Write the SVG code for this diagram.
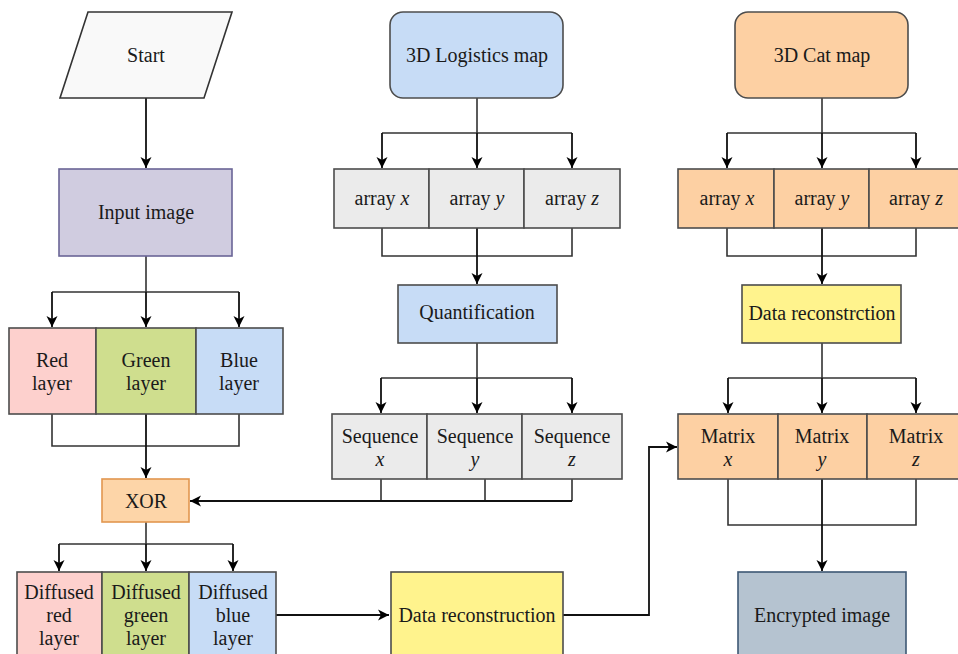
<svg xmlns="http://www.w3.org/2000/svg" width="958" height="654" viewBox="0 0 958 654">
<style>
text{font-family:"Liberation Serif","Times New Roman",serif;font-size:20px;fill:#1a1a1a;text-anchor:middle}
.it{font-style:italic}
.box{stroke:#4d4d4d;stroke-width:1.6}
.grey{fill:#ebebeb}
.blue{fill:#c7dcf6}
.peach{fill:#fdd0a3}
.yellow{fill:#fff38d}
.red{fill:#fdd0cd}
.green{fill:#cfde8e}
.arr{fill:none;stroke:#111;stroke-width:1.8;marker-end:url(#ah)}
.ln{fill:none;stroke:#333;stroke-width:1.6}
</style>
<defs>
<marker id="ah" markerUnits="userSpaceOnUse" markerWidth="12" markerHeight="12" viewBox="0 0 12 12" refX="11" refY="6" orient="auto">
<path d="M0,0.5 L11,6 L0,11.5 L3,6 Z" fill="#000"/>
</marker>
</defs>
<rect width="958" height="654" fill="#fff"/>

<g id="connectors">
<path class="arr" d="M146,98 V168"/>
<path class="ln" d="M146,256 V292 M52,292 H239"/>
<path class="arr" d="M52,292 V327"/>
<path class="arr" d="M146,292 V327"/>
<path class="arr" d="M239,292 V327"/>
<path class="ln" d="M52,414 V446 H239 V414"/>
<path class="arr" d="M146,414 V478"/>
<path class="ln" d="M146,522 V544 M59,544 H233"/>
<path class="arr" d="M59,544 V571"/>
<path class="arr" d="M146,544 V571"/>
<path class="arr" d="M233,544 V571"/>
<path class="arr" d="M276,615 H389"/>

<path class="ln" d="M477,98 V133 M382,133 H572"/>
<path class="arr" d="M382,133 V168"/>
<path class="arr" d="M477,133 V168"/>
<path class="arr" d="M572,133 V168"/>
<path class="ln" d="M382,228 V256 H572 V228"/>
<path class="arr" d="M477,228 V284"/>
<path class="ln" d="M477,343 V378 M381,378 H572"/>
<path class="arr" d="M381,378 V413"/>
<path class="arr" d="M477,378 V413"/>
<path class="arr" d="M572,378 V413"/>
<path class="ln" d="M381,479 V500 M485,479 V500 M572,479 V501"/>
<path class="arr" d="M572,501 H190"/>
<path class="arr" d="M563,615 H649 V447 H677"/>

<path class="ln" d="M822,98 V133 M727,133 H916"/>
<path class="arr" d="M727,133 V168"/>
<path class="arr" d="M822,133 V168"/>
<path class="arr" d="M916,133 V168"/>
<path class="ln" d="M727,228 V256 H916 V228"/>
<path class="arr" d="M822,228 V284"/>
<path class="ln" d="M822,343 V378 M728,378 H916"/>
<path class="arr" d="M728,378 V413"/>
<path class="arr" d="M822,378 V413"/>
<path class="arr" d="M916,378 V413"/>
<path class="ln" d="M728,479 V525 H916 V479"/>
<path class="arr" d="M822,479 V571"/>
</g>

<g id="start">
<polygon points="88,12 232,12 204,98 60,98" fill="#f9f9f9" stroke="#333" stroke-width="1.6"/>
<text x="146" y="62">Start</text>
</g>
<g id="input-image">
<rect x="59" y="169" width="173" height="87" fill="#d0cce0" stroke="#6a6596" stroke-width="1.6"/>
<text x="146" y="219">Input image</text>
</g>
<g id="red-layer">
<rect class="box red" x="9" y="328" width="87" height="86"/>
<text x="52" y="367">Red</text><text x="52" y="390">layer</text>
</g>
<g id="green-layer">
<rect class="box green" x="96" y="328" width="100" height="86"/>
<text x="146" y="367">Green</text><text x="146" y="390">layer</text>
</g>
<g id="blue-layer">
<rect class="box blue" x="196" y="328" width="87" height="86"/>
<text x="239" y="367">Blue</text><text x="239" y="390">layer</text>
</g>
<g id="xor">
<rect x="102" y="479" width="87" height="43" fill="#fdd5a8" stroke="#e2964f" stroke-width="1.6"/>
<text x="146" y="508">XOR</text>
</g>
<g id="diffused-red">
<rect class="box red" x="17" y="572" width="85" height="90"/>
<text x="59" y="599">Diffused</text><text x="59" y="622">red</text><text x="59" y="645">layer</text>
</g>
<g id="diffused-green">
<rect class="box green" x="102" y="572" width="87" height="90"/>
<text x="146" y="599">Diffused</text><text x="146" y="622">green</text><text x="146" y="645">layer</text>
</g>
<g id="diffused-blue">
<rect class="box blue" x="189" y="572" width="87" height="90"/>
<text x="233" y="599">Diffused</text><text x="233" y="622">blue</text><text x="233" y="645">layer</text>
</g>

<g id="logistics-map">
<rect class="box blue" x="390" y="12" width="173" height="86" rx="13"/>
<text x="477" y="62">3D Logistics map</text>
</g>
<g id="log-array-x">
<rect class="box grey" x="334" y="169" width="95" height="59"/>
<text x="382" y="205">array <tspan class="it">x</tspan></text>
</g>
<g id="log-array-y">
<rect class="box grey" x="429" y="169" width="95" height="59"/>
<text x="477" y="205">array <tspan class="it">y</tspan></text>
</g>
<g id="log-array-z">
<rect class="box grey" x="524" y="169" width="96" height="59"/>
<text x="572" y="205">array <tspan class="it">z</tspan></text>
</g>
<g id="quantification">
<rect class="box blue" x="398" y="285" width="159" height="58"/>
<text x="477" y="319">Quantification</text>
</g>
<g id="seq-x">
<rect class="box grey" x="332" y="414" width="95" height="65"/>
<text x="380" y="443">Sequence</text><text class="it" x="380" y="466">x</text>
</g>
<g id="seq-y">
<rect class="box grey" x="427" y="414" width="95" height="65"/>
<text x="475" y="443">Sequence</text><text class="it" x="475" y="466">y</text>
</g>
<g id="seq-z">
<rect class="box grey" x="522" y="414" width="100" height="65"/>
<text x="572" y="443">Sequence</text><text class="it" x="572" y="466">z</text>
</g>
<g id="data-reconstruction">
<rect class="box yellow" x="391" y="572" width="172" height="90"/>
<text x="477" y="622">Data reconstruction</text>
</g>

<g id="cat-map">
<rect class="box peach" x="735" y="12" width="173" height="86" rx="13"/>
<text x="822" y="62">3D Cat map</text>
</g>
<g id="cat-array-x">
<rect class="box peach" x="678" y="169" width="96" height="59"/>
<text x="727" y="205">array <tspan class="it">x</tspan></text>
</g>
<g id="cat-array-y">
<rect class="box peach" x="774" y="169" width="95" height="59"/>
<text x="822" y="205">array <tspan class="it">y</tspan></text>
</g>
<g id="cat-array-z">
<rect class="box peach" x="869" y="169" width="96" height="59"/>
<text x="916" y="205">array <tspan class="it">z</tspan></text>
</g>
<g id="data-reconstrction">
<rect class="box yellow" x="742" y="285" width="159" height="58"/>
<text x="822" y="320">Data reconstrction</text>
</g>
<g id="matrix-x">
<rect class="box peach" x="678" y="414" width="100" height="65"/>
<text x="728" y="443">Matrix</text><text class="it" x="728" y="466">x</text>
</g>
<g id="matrix-y">
<rect class="box peach" x="778" y="414" width="89" height="65"/>
<text x="822" y="443">Matrix</text><text class="it" x="822" y="466">y</text>
</g>
<g id="matrix-z">
<rect class="box peach" x="867" y="414" width="98" height="65"/>
<text x="916" y="443">Matrix</text><text class="it" x="916" y="466">z</text>
</g>
<g id="encrypted-image">
<rect x="738" y="572" width="168" height="90" fill="#b5c3d0" stroke="#3e5874" stroke-width="1.6"/>
<text x="822" y="622">Encrypted image</text>
</g>
</svg>
